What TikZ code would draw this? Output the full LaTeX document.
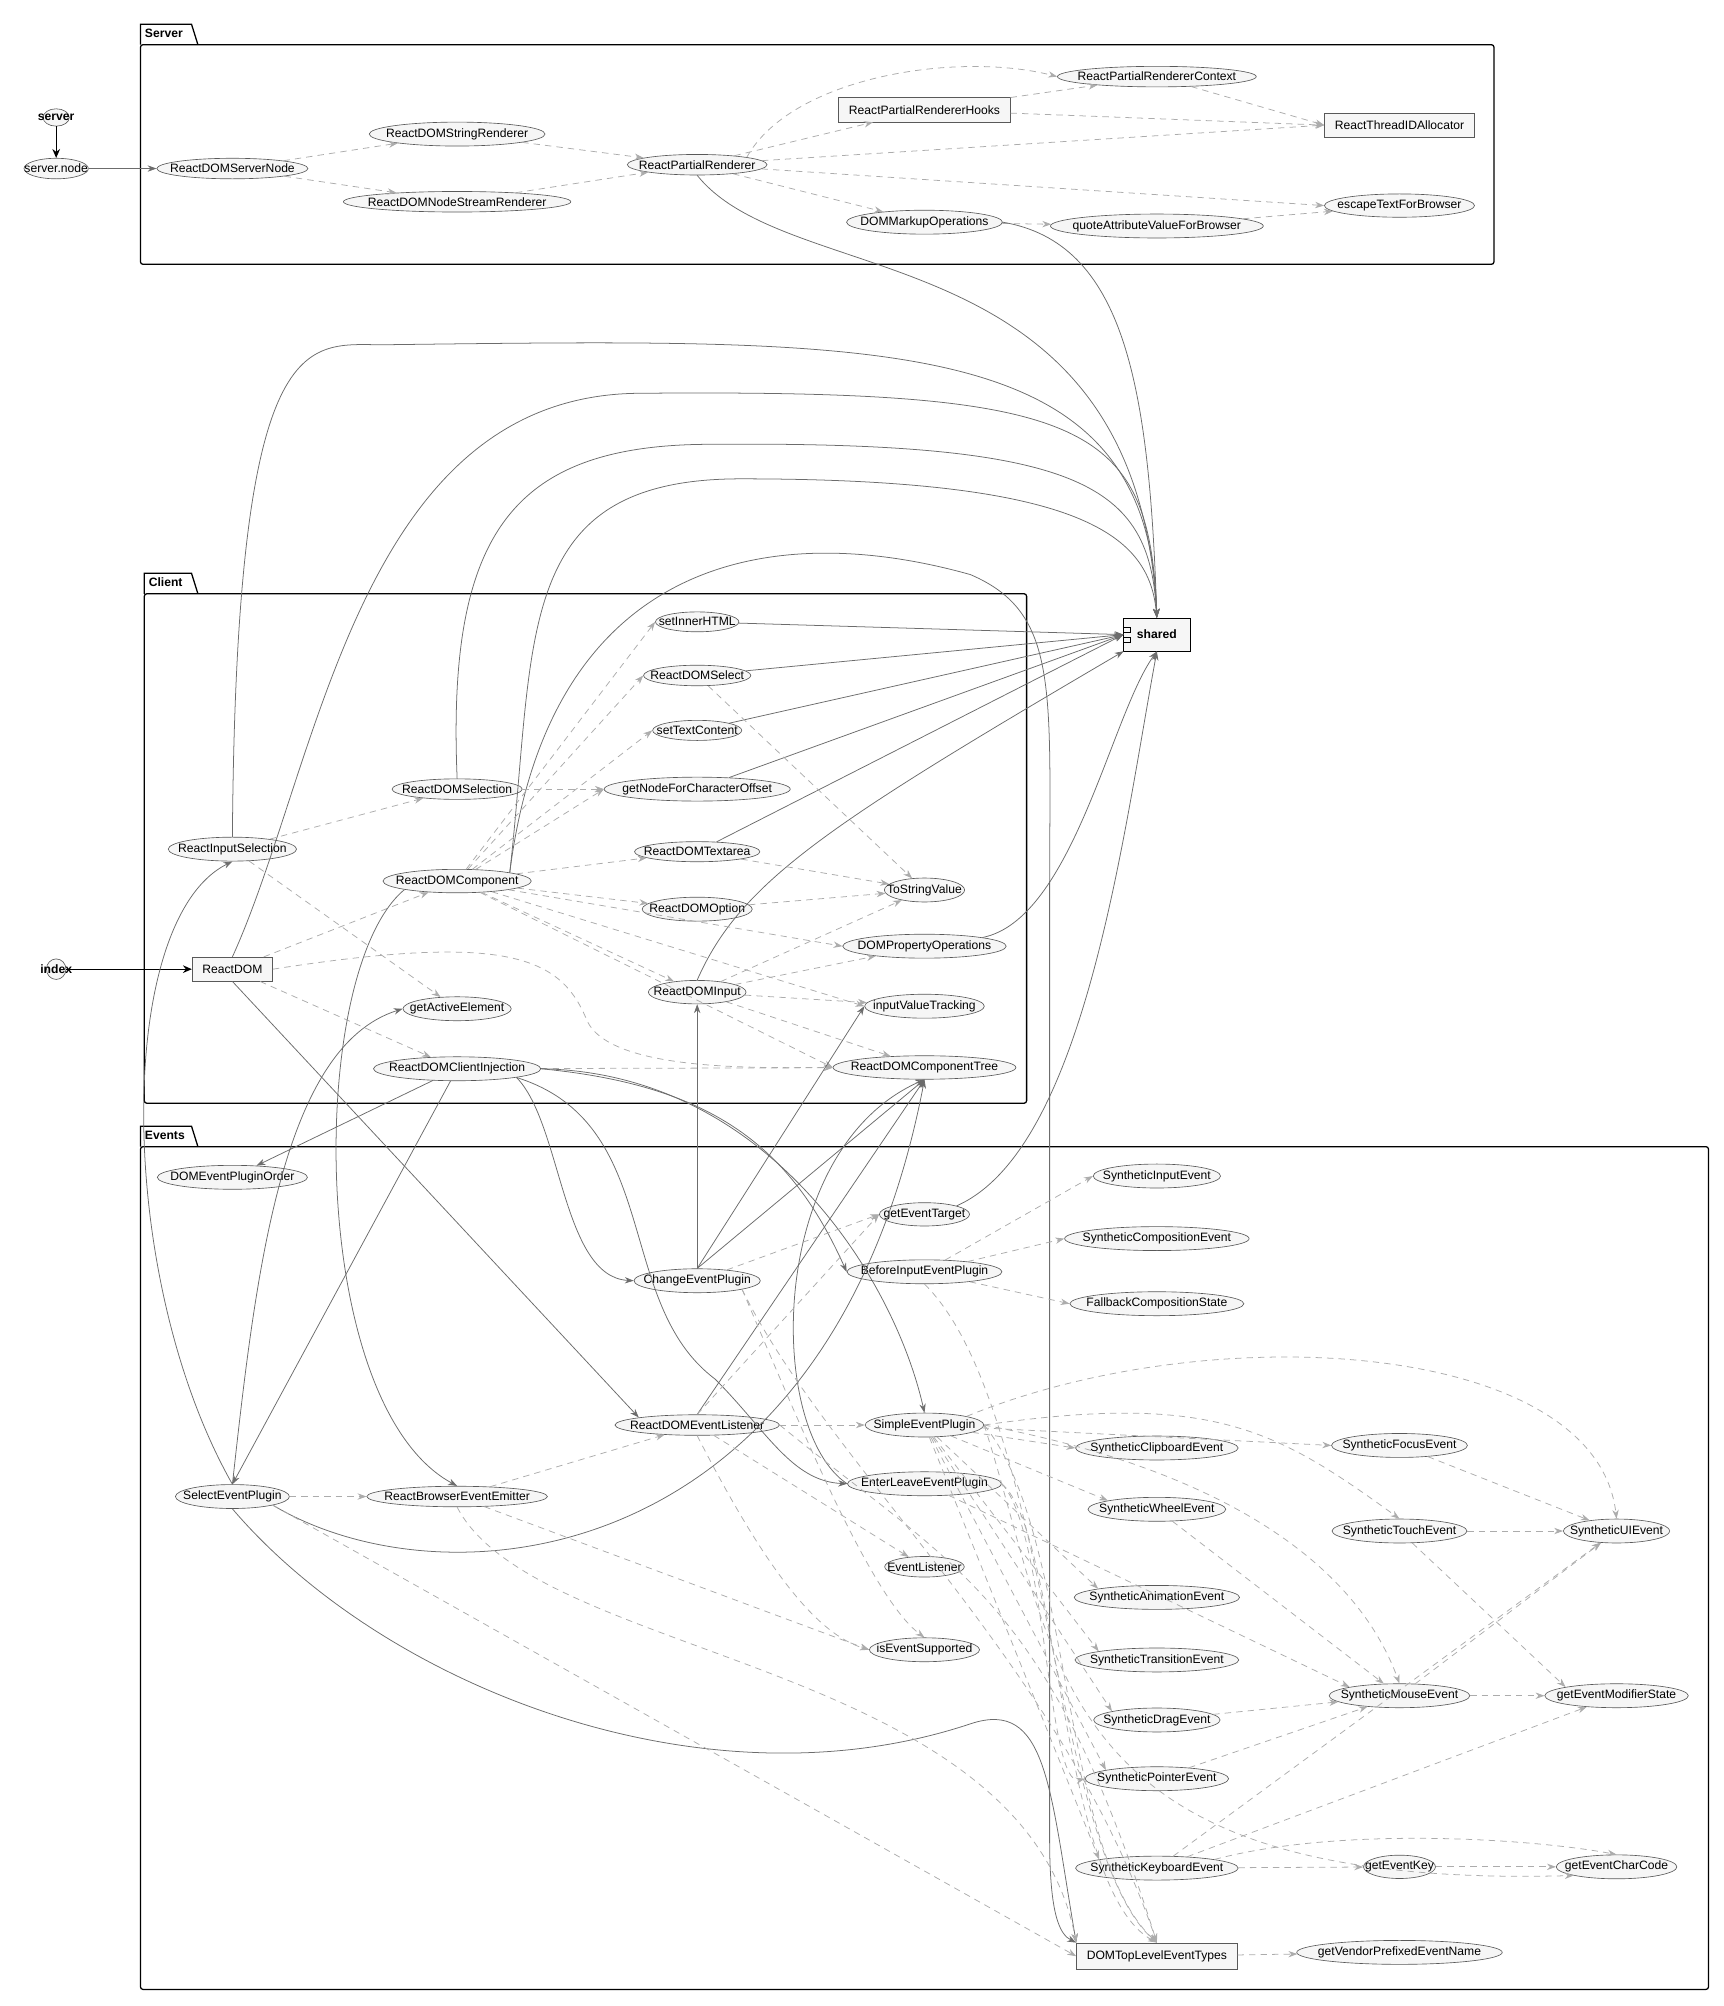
\documentclass[tikz,border=0pt]{standalone}
\usepackage{fontspec}
\setmainfont{Liberation Sans}
\usetikzlibrary{shapes.geometric,arrows.meta}
\begin{document}
\begin{tikzpicture}[x=1pt,y=-1pt,
 font=\fontsize{9.5}{11}\selectfont,
 el/.style={ellipse,draw=gray!70!black,fill=gray!7,inner xsep=-7pt,inner ysep=2.2pt,line width=0.5pt},
 bx/.style={rectangle,draw=gray!70!black,fill=gray!7,inner xsep=8pt,inner ysep=6pt,line width=0.5pt},
 sol/.style={draw=gray!85!black,line width=0.6pt,-{Stealth[length=7pt,width=5pt]}},
 dsh/.style={draw=gray!65,dash pattern=on 5pt off 4pt,line width=0.6pt,-{Stealth[length=7pt,width=5pt]}},
 thk/.style={draw=black,line width=1pt,-{Stealth[length=7pt,width=6pt]}},
 pkgt/.style={font=\fontsize{9.5}{11}\selectfont\bfseries,anchor=west}]
\useasboundingbox (0,0) rectangle (1350,1571);
% packages
\newcommand\pkgframe[5]{%
 \draw[line width=1pt,rounded corners=2pt] (#1,#2) rectangle (#3,#4);
 \draw[line width=1pt] (#1,#2) -- (#1,#2-16) -- (#1+#5,#2-16) -- (#1+#5+5,#2);}
\pkgframe{110}{35}{1170}{207}{40}\node[pkgt] (tS) at (110,26) {Server};
\pkgframe{113}{465}{804}{864}{37}\node[pkgt] (tC) at (113,456) {Client};
\pkgframe{110}{898}{1338}{1558}{40}\node[pkgt] (tE) at (110,889) {Events};
% nodes
\node[el,font=\fontsize{9.5}{11}\selectfont\bfseries] (server) at (44,92) {server};
\node[el] (servernode) at (44,132) {server.node};
\node[el] (RDSN) at (182,132) {ReactDOMServerNode};
\node[el] (RDSR) at (358,105) {ReactDOMStringRenderer};
\node[el] (RDNSR) at (358,158) {ReactDOMNodeStreamRenderer};
\node[el] (RPR) at (546,129) {ReactPartialRenderer};
\node[bx] (RPRH) at (724,86) {ReactPartialRendererHooks};
\node[el] (RPRC) at (906,60) {ReactPartialRendererContext};
\node[bx] (RTIA) at (1096,98) {ReactThreadIDAllocator};
\node[el] (ETFB) at (1096,161) {escapeTextForBrowser};
\node[el] (DMO) at (724,174) {DOMMarkupOperations};
\node[el] (QAVB) at (906,177) {quoteAttributeValueForBrowser};
\node[rectangle,draw,fill=gray!7,minimum width=52pt,minimum height=26pt,font=\fontsize{9.5}{11}\selectfont\bfseries] (shared) at (906,497) {shared};
\draw (880,491) rectangle (885,495) (880,499) rectangle (885,503);
\node[el] (setIH) at (546,487) {setInnerHTML};
\node[el] (RDSel) at (546,529) {ReactDOMSelect};
\node[el] (setTC) at (546,572) {setTextContent};
\node[el] (gNFCO) at (546,618) {getNodeForCharacterOffset};
\node[el] (RDSelection) at (358,618) {ReactDOMSelection};
\node[el] (RIS) at (182,665) {ReactInputSelection};
\node[el] (RDC) at (358,690) {ReactDOMComponent};
\node[el] (RDTA) at (546,667) {ReactDOMTextarea};
\node[el] (TSV) at (724,697) {ToStringValue};
\node[el] (RDO) at (546,712) {ReactDOMOption};
\node[el] (DPO) at (724,741) {DOMPropertyOperations};
\node[bx] (RDOM) at (182,759) {ReactDOM};
\node[el,font=\fontsize{9.5}{11}\selectfont\bfseries] (index) at (44,759) {index};
\node[el] (gAE) at (358,790) {getActiveElement};
\node[el] (RDI) at (546,777) {ReactDOMInput};
\node[el] (IVT) at (724,788) {inputValueTracking};
\node[el] (RDCI) at (358,837) {ReactDOMClientInjection};
\node[el] (RDCT) at (724,836) {ReactDOMComponentTree};
\node[el] (DEPO) at (182,922) {DOMEventPluginOrder};
\node[el] (SIE) at (906,921) {SyntheticInputEvent};
\node[el] (gET) at (724,951) {getEventTarget};
\node[el] (SCE) at (906,970) {SyntheticCompositionEvent};
\node[el] (BIEP) at (724,996) {BeforeInputEventPlugin};
\node[el] (CEP) at (546,1003) {ChangeEventPlugin};
\node[el] (FCS) at (906,1021) {FallbackCompositionState};
\node[el] (RDEL) at (546,1116) {ReactDOMEventListener};
\node[el] (SEP) at (724,1116) {SimpleEventPlugin};
\node[el] (SFE) at (1096,1132) {SyntheticFocusEvent};
\node[el] (SClE) at (906,1134) {SyntheticClipboardEvent};
\node[el] (ELEP) at (724,1162) {EnterLeaveEventPlugin};
\node[el] (SelEP) at (182,1172) {SelectEventPlugin};
\node[el] (RBEE) at (358,1172) {ReactBrowserEventEmitter};
\node[el] (SWE) at (906,1182) {SyntheticWheelEvent};
\node[el] (STE) at (1096,1199) {SyntheticTouchEvent};
\node[el] (SUIE) at (1266,1199) {SyntheticUIEvent};
\node[el] (EL) at (724,1227) {EventListener};
\node[el] (SAE) at (906,1251) {SyntheticAnimationEvent};
\node[el] (iES) at (724,1292) {isEventSupported};
\node[el] (STrE) at (906,1300) {SyntheticTransitionEvent};
\node[el] (SME) at (1096,1328) {SyntheticMouseEvent};
\node[el] (gEMS) at (1266,1328) {getEventModifierState};
\node[el] (SDE) at (906,1347) {SyntheticDragEvent};
\node[el] (SPE) at (906,1393) {SyntheticPointerEvent};
\node[el] (SKE) at (906,1463) {SyntheticKeyboardEvent};
\node[el] (gEK) at (1096,1462) {getEventKey};
\node[el] (gECC) at (1266,1462) {getEventCharCode};
\node[bx] (DTLET) at (906,1532) {DOMTopLevelEventTypes};
\node[el] (gVPEN) at (1096,1529) {getVendorPrefixedEventName};
% thick
\draw[thk] (server) -- (servernode);
\draw[thk] (index) -- (RDOM);
\draw[sol] (servernode) -- (RDSN);
% server dashed
\draw[dsh] (RDSN) -- (RDSR);
\draw[dsh] (RDSN) -- (RDNSR);
\draw[dsh] (RDSR) -- (RPR);
\draw[dsh] (RDNSR) -- (RPR);
\draw[dsh] (RPR) -- (RPRH);
\draw[dsh] (RPR.north east) .. controls (620,60) and (750,40) .. (RPRC.west);
\draw[dsh] (RPR) -- (RTIA.west);
\draw[dsh] (RPR) -- (ETFB.west);
\draw[dsh] (RPR) -- (DMO);
\draw[dsh] (RPRH) -- (RPRC);
\draw[dsh] (RPRH) -- (RTIA.west);
\draw[dsh] (RPRC) -- (RTIA.west);
\draw[dsh] (DMO) -- (QAVB);
\draw[dsh] (QAVB) -- (ETFB);
% to shared
\draw[sol] (RPR.south) .. controls (620,230) and (890,180) .. (shared.north);
\draw[sol] (DMO.east) .. controls (880,190) and (900,300) .. (shared.north);
\draw[sol] (RIS.north) .. controls (185,250) and (240,270) .. (300,270) .. controls (700,265) and (900,260) .. (shared.north);
\draw[sol] (RDOM.north) .. controls (250,600) and (280,310) .. (500,308) .. controls (850,305) and (900,330) .. (shared.north);
\draw[sol] (RDSelection.north) .. controls (350,420) and (400,350) .. (550,348) .. controls (850,345) and (900,380) .. (shared.north);
\draw[sol] (RDC.north east) .. controls (420,500) and (400,375) .. (580,375) .. controls (850,375) and (900,420) .. (shared.north);
\draw[sol] (RDC.north east) .. controls (430,440) and (600,405) .. (760,450) .. controls (830,480) and (822,540) .. (822,700) -- (822,1440) .. controls (822,1500) and (830,1515) .. (DTLET.north west);
\draw[sol] (setIH) -- (shared.west);
\draw[sol] (RDSel) -- (shared.west);
\draw[sol] (setTC) -- (shared.west);
\draw[sol] (gNFCO) -- (shared.west);
\draw[sol] (RDTA) -- (shared.west);
\draw[sol] (DPO.north east) .. controls (840,720) and (870,560) .. (shared.south);
\draw[sol] (RDI.north) .. controls (580,690) and (650,645) .. (880,510);
\draw[sol] (gET.north east) .. controls (850,900) and (880,650) .. (shared.south);
% client dashed
\draw[dsh] (RIS) -- (RDSelection);
\draw[dsh] (RIS) -- (gAE);
\draw[dsh] (RDSelection) -- (gNFCO);
\draw[dsh] (RDC) -- (setIH.west);
\draw[dsh] (RDC) -- (RDSel.west);
\draw[dsh] (RDC) -- (setTC.west);
\draw[dsh] (RDC) -- (gNFCO.west);
\draw[dsh] (RDC) -- (RDTA);
\draw[dsh] (RDC) -- (RDO);
\draw[dsh] (RDC) -- (DPO.west);
\draw[dsh] (RDC) -- (RDI);
\draw[dsh] (RDC) -- (IVT.west);
\draw[dsh] (RDC) -- (RDCT.west);
\draw[dsh] (RDOM) -- (RDC);
\draw[dsh] (RDOM) -- (RDCI);
\draw[dsh] (RDOM.east) .. controls (400,730) and (440,750) .. (460,800) .. controls (480,840) and (600,836) .. (RDCT.west);
\draw[dsh] (RDSel) -- (TSV);
\draw[dsh] (RDTA) -- (TSV);
\draw[dsh] (RDO) -- (TSV);
\draw[dsh] (RDI) -- (TSV);
\draw[dsh] (RDI) -- (DPO);
\draw[dsh] (RDI) -- (IVT);
\draw[dsh] (RDI) -- (RDCT);
\draw[dsh] (RDCI) -- (RDCT);
% events solid
\draw[sol] (RDCI) -- (DEPO);
\draw[sol] (RDCI) -- (SelEP.north);
\draw[sol] (RDCI.south east) .. controls (440,880) and (440,1000) .. (CEP.west);
\draw[sol] (RDCI.south east) .. controls (520,880) and (480,1020) .. (560,1080) .. controls (600,1120) and (620,1160) .. (ELEP.west);
\draw[sol] (RDCI.east) .. controls (560,850) and (620,900) .. (BIEP.west);
\draw[sol] (RDCI.east) .. controls (600,840) and (700,1000) .. (SEP.north);
\draw[sol] (RDOM.south) -- (RDEL.north west);
\draw[sol] (RDC.south west) .. controls (240,760) and (240,1100) .. (RBEE.north);
\draw[sol] (SelEP.north) .. controls (90,1000) and (90,720) .. (RIS.south);
\draw[sol] (SelEP.north) .. controls (200,1000) and (220,820) .. (gAE.west);
\draw[sol] (SelEP.south east) .. controls (350,1260) and (650,1230) .. (RDCT.south);
\draw[sol] (SelEP.south) .. controls (300,1320) and (550,1420) .. (760,1350) .. controls (820,1330) and (822,1400) .. (DTLET.north west);
\draw[sol] (CEP.north) -- (RDI.south);
\draw[sol] (CEP.north) -- (IVT.west);
\draw[sol] (CEP.north) -- (RDCT.south);
\draw[sol] (RDEL.north) -- (RDCT.south);
\draw[sol] (ELEP.west) .. controls (600,1120) and (600,900) .. (RDCT.south);
% events dashed
\draw[dsh] (BIEP) -- (SIE.west);
\draw[dsh] (BIEP) -- (SCE.west);
\draw[dsh] (BIEP) -- (FCS.west);
\draw[dsh] (BIEP.south) .. controls (820,1100) and (825,1450) .. (DTLET.north);
\draw[dsh] (CEP) -- (gET.west);
\draw[dsh] (CEP.south east) .. controls (620,1100) and (680,1250) .. (iES.north);
\draw[dsh] (CEP.south east) .. controls (650,1150) and (830,1300) .. (DTLET.north);
\draw[dsh] (RDEL) -- (SEP);
\draw[dsh] (RDEL.north) -- (gET.west);
\draw[dsh] (RDEL) -- (EL);
\draw[dsh] (RDEL.south) .. controls (600,1230) and (640,1280) .. (iES.west);
\draw[dsh] (RDEL.east) .. controls (750,1230) and (820,1250) .. (DTLET.north);
\draw[dsh] (RBEE) -- (RDEL);
\draw[dsh] (RBEE) -- (iES.west);
\draw[dsh] (RBEE.south) .. controls (420,1300) and (800,1300) .. (DTLET.north west);
\draw[dsh] (SelEP) -- (RBEE);
\draw[dsh] (SelEP.south east) -- (DTLET.west);
\draw[dsh] (SEP.north east) .. controls (950,1030) and (1250,1050) .. (SUIE.north);
\draw[dsh] (SEP) -- (SFE.west);
\draw[dsh] (SEP.east) .. controls (950,1090) and (1000,1120) .. (STE.north);
\draw[dsh] (SEP) -- (SClE.west);
\draw[dsh] (SEP) -- (SWE.north west);
\draw[dsh] (SEP.east) .. controls (950,1150) and (1060,1220) .. (SME.north);
\draw[dsh] (SEP) -- (SAE.north west);
\draw[dsh] (SEP) -- (STrE.north west);
\draw[dsh] (SEP) -- (SDE.north west);
\draw[dsh] (SEP) -- (SPE.north west);
\draw[dsh] (SEP) -- (SKE.north west);
\draw[dsh] (SEP.east) .. controls (840,1200) and (830,1450) .. (DTLET.north);
\draw[dsh] (SEP.east) .. controls (830,1300) and (820,1480) .. (gECC.south west);
\draw[dsh] (ELEP) -- (SME.north west);
\draw[dsh] (ELEP.east) .. controls (820,1200) and (820,1400) .. (SPE.west);
\draw[dsh] (ELEP.east) .. controls (830,1200) and (830,1480) .. (DTLET.north);
\draw[dsh] (SFE) -- (SUIE);
\draw[dsh] (STE) -- (SUIE);
\draw[dsh] (STE) -- (gEMS.north west);
\draw[dsh] (SWE) -- (SME);
\draw[dsh] (SDE) -- (SME);
\draw[dsh] (SPE) -- (SME);
\draw[dsh] (SME) -- (SUIE);
\draw[dsh] (SME) -- (gEMS);
\draw[dsh] (SKE) -- (SUIE);
\draw[dsh] (SKE) -- (gEMS);
\draw[dsh] (SKE) -- (gEK);
\draw[dsh] (SKE.north east) .. controls (1050,1430) and (1200,1440) .. (gECC.north);
\draw[dsh] (gEK) -- (gECC);
\draw[dsh] (DTLET) -- (gVPEN);
\end{tikzpicture}
\end{document}
